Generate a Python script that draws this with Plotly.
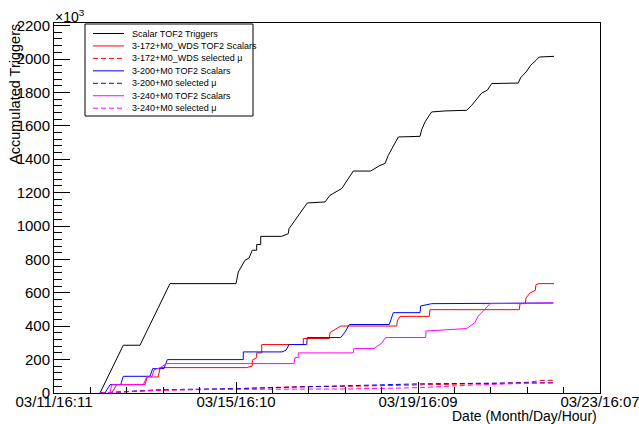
import plotly.graph_objects as go

# ---------------- data (x: days since 03/11 16:11, y: triggers x10^3) ----------------
names = [
    "Scalar TOF2 Triggers",
    "3-172+M0_WDS TOF2 Scalars",
    "3-172+M0_WDS selected \u03bc",
    "3-200+M0 TOF2 Scalars",
    "3-200+M0 selected \u03bc",
    "3-240+M0 TOF2 Scalars",
    "3-240+M0 selected \u03bc",
]

trig_days = [1.011, 1.523, 1.890, 2.549, 4.000, 4.051, 4.198, 4.286, 4.358, 4.455, 4.455, 4.543,
             4.543, 5.004, 5.149, 5.165, 5.297, 5.457, 5.567, 5.956, 6.066, 6.323, 6.484, 6.578,
             6.960, 7.165, 7.275, 7.347, 7.567, 8.044, 8.081, 8.154, 8.264, 8.301, 8.593, 9.070,
             9.180, 9.303, 9.400, 9.523, 9.620, 10.204, 10.257, 10.374, 10.477, 10.593, 10.666, 10.989]
trig_vals = [0, 286, 286, 655, 655, 725, 795, 808, 855, 855, 889, 889,
             938, 938, 954, 984, 1034, 1094, 1138, 1144, 1184, 1224, 1293, 1329,
             1329, 1363, 1374, 1423, 1533, 1537, 1577, 1623, 1669, 1683, 1689, 1693,
             1723, 1763, 1796, 1813, 1853, 1856, 1889, 1922, 1962, 1992, 2012, 2016]

wds_days = [1.268, 1.378, 2.000, 2.051, 2.292, 2.330, 4.235, 4.358, 4.358, 4.455, 4.455, 4.565,
            4.565, 5.479, 5.479, 6.051, 6.066, 6.213, 6.301, 7.532, 7.545, 7.604, 8.248, 8.264,
            10.226, 10.242, 10.358, 10.374, 10.462, 10.578, 10.593, 10.659, 10.989]
wds_vals = [0, 50, 50, 96, 96, 152, 152, 162, 196, 212, 240, 240,
            290, 290, 326, 326, 362, 386, 401, 401, 431, 459, 459, 499,
            499, 535, 535, 569, 599, 615, 649, 655, 655]

m200_days = [1.121, 1.231, 1.466, 1.523, 2.110, 2.169, 2.418, 2.490, 4.160, 4.160, 5.011, 5.099,
             5.165, 5.554, 5.567, 6.301, 6.396, 6.490, 7.369, 7.400, 7.457, 8.044, 8.059, 8.301, 10.974]
m200_vals = [0, 50, 50, 100, 100, 146, 146, 200, 200, 246, 246, 256,
             290, 290, 332, 332, 365, 410, 410, 441, 481, 481, 521, 535, 539]

m240_days = [1.231, 1.268, 1.963, 2.044, 2.154, 2.198, 2.330, 2.477, 5.275, 5.297, 5.369, 5.369,
             6.578, 6.593, 7.033, 7.202, 7.290, 8.169, 8.176, 8.615, 9.070, 9.253, 9.319, 9.435,
             9.582, 10.974]
m240_vals = [0, 50, 50, 100, 100, 139, 151, 176, 176, 212, 212, 240,
             240, 266, 266, 299, 332, 332, 371, 380, 386, 422, 459, 491,
             535, 539]

wds_mu_days = [1.011, 1.341, 1.670, 2.330, 4.000, 5.407, 6.440, 7.385, 8.264, 9.802, 10.462, 10.681, 10.989]
wds_mu_vals = [0, 3, 8, 16, 26, 38, 40, 44, 50, 58, 65, 75, 76]

m200_mu_days = [1.011, 1.231, 1.495, 2.330, 4.000, 4.791, 6.440, 7.385, 8.044, 10.989]
m200_mu_vals = [0, 3, 10, 20, 26, 32, 40, 50, 55, 62]

m240_mu_days = [1.011, 1.231, 1.670, 2.330, 4.000, 5.407, 6.440, 8.044, 9.209, 10.396, 10.989]
m240_mu_vals = [0, 3, 8, 18, 22, 24, 24, 32, 48, 58, 60]

x_tickvals = [0, 4, 8, 12]
x_ticktext = ["03/11/16:11", "03/15/16:10", "03/19/16:09", "03/23/16:07"]
y_tickvals = [0, 200, 400, 600, 800, 1000, 1200, 1400, 1600, 1800, 2000, 2200]

# ---------------- styling ----------------
colors = ["#000000", "#ff0000", "#ff0000", "#0000ff", "#0000ff", "#ff00ff", "#ff00ff"]
dashes = ["solid", "solid", "5px,3px", "solid", "5px,3px", "solid", "5px,3px"]
xs = [trig_days, wds_days, wds_mu_days, m200_days, m200_mu_days, m240_days, m240_mu_days]
ys = [trig_vals, wds_vals, wds_mu_vals, m200_vals, m200_mu_vals, m240_vals, m240_mu_vals]

FONT = "Liberation Sans, Arial, Helvetica, sans-serif"
W, H = 639, 424
ML, MR, MT, MB = 54, 39, 23, 31
PW, PH = W - ML - MR, H - MT - MB


def px2x(px):
    return (px - ML) / PW


def px2y(py):
    return (H - MB - py) / PH


fig = go.Figure()
for i in range(len(names)):
    fig.add_trace(go.Scatter(x=xs[i], y=ys[i], mode="lines", name=names[i],
                             line=dict(color=colors[i], width=1, dash=dashes[i]),
                             showlegend=False, hoverinfo="skip"))

fig.update_layout(
    width=W, height=H,
    margin=dict(l=ML, r=MR, t=MT, b=MB, pad=0, autoexpand=False),
    paper_bgcolor="white", plot_bgcolor="white",
    font=dict(family=FONT, size=14, color="black"),
    showlegend=False,
)
fig.update_xaxes(
    range=[0, 12], tickmode="array", tickvals=x_tickvals, ticktext=x_ticktext,
    ticks="inside", ticklen=11, tickwidth=1, tickcolor="black",
    minor=dict(tickmode="linear", tick0=0, dtick=0.8, ticks="inside", ticklen=6,
               tickcolor="black", tickwidth=1, showgrid=False),
    showgrid=False, zeroline=False, showline=True, linecolor="black", linewidth=1,
    mirror=True, tickfont=dict(size=15, family=FONT, color="black"),
    ticklabelstandoff=-5, ticklabeloverflow="allow", automargin=False,
)
fig.update_yaxes(
    range=[0, PH / 0.167], tickmode="array", tickvals=y_tickvals,
    ticks="inside", ticklen=16, tickwidth=1, tickcolor="black",
    minor=dict(tickmode="linear", tick0=0, dtick=40, ticks="inside", ticklen=8,
               tickcolor="black", tickwidth=1, showgrid=False),
    showgrid=False, zeroline=False, showline=True, linecolor="black", linewidth=1,
    mirror=True, tickfont=dict(size=15, family=FONT, color="black"),
    ticklabelstandoff=0, ticklabeloverflow="allow", automargin=False,
)

annotations = [
    dict(text="\u00d710<sup>3</sup>", x=px2x(53), y=px2y(16), xref="paper", yref="paper",
         xanchor="left", yanchor="middle", showarrow=False, font=dict(size=14, family=FONT)),
    dict(text="Accumulated Triggers", x=px2x(15), y=px2y(22), xref="paper", yref="paper",
         xanchor="center", yanchor="top", textangle=-90, showarrow=False,
         font=dict(size=14.5, family=FONT)),
    dict(text="Date (Month/Day/Hour)", x=px2x(599), y=px2y(416.5), xref="paper", yref="paper",
         xanchor="right", yanchor="middle", showarrow=False, font=dict(size=14, family=FONT)),
]
shapes = [
    dict(type="rect", xref="paper", yref="paper", x0=px2x(85), x1=px2x(253),
         y0=px2y(116), y1=px2y(24), line=dict(color="black", width=1), fillcolor="white",
         layer="above"),
]
for i, nm in enumerate(names):
    ry = 33.5 + i * 12.45
    shapes.append(dict(type="line", xref="paper", yref="paper", x0=px2x(93), x1=px2x(124),
                       y0=px2y(ry), y1=px2y(ry),
                       line=dict(color=colors[i], width=1, dash=dashes[i]), layer="above"))
    annotations.append(dict(text=nm, x=px2x(130), y=px2y(ry), xref="paper", yref="paper",
                            xanchor="left", yanchor="middle", showarrow=False,
                            font=dict(size=9, family=FONT, color="black")))

fig.update_layout(annotations=annotations, shapes=shapes)
fig.write_html("out.html", config={"displayModeBar": False},
               post_script="document.body.style.margin='0px';")
